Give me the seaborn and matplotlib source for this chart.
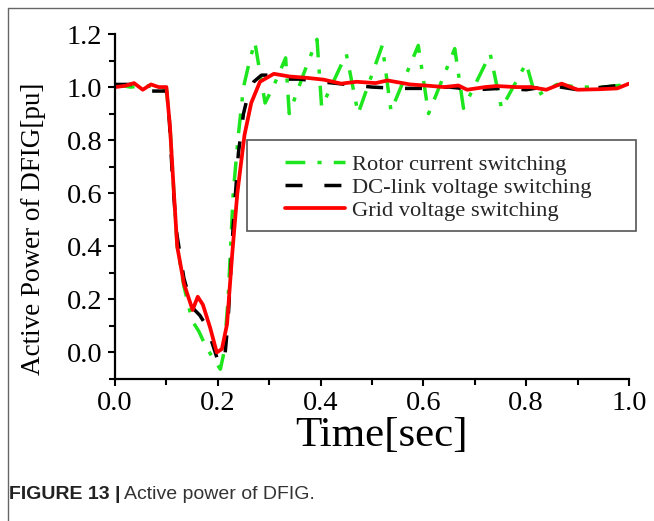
import matplotlib
matplotlib.use("Agg")
import matplotlib.pyplot as plt
import seaborn as sns
from matplotlib.lines import Line2D
from matplotlib.patches import Rectangle
from matplotlib.ticker import MultipleLocator

# ---------------- data ----------------
t_grid = [0, 0.02, 0.037, 0.054, 0.07, 0.085, 0.1, 0.107, 0.114, 0.121, 0.134,
          0.151, 0.161, 0.171, 0.185, 0.198, 0.208, 0.218, 0.228, 0.238, 0.252,
          0.265, 0.282, 0.309, 0.339, 0.372, 0.406, 0.44, 0.47, 0.507, 0.53,
          0.574, 0.61, 0.64, 0.668, 0.685, 0.72, 0.742, 0.78, 0.809, 0.839,
          0.869, 0.9, 0.943, 0.977, 1.0]
p_grid = [1.0, 1.005, 1.015, 0.99, 1.01, 1.0, 1.0, 0.85, 0.62, 0.40, 0.26,
          0.16, 0.21, 0.18, 0.094, 0.0, 0.013, 0.107, 0.37, 0.60, 0.82,
          0.94, 1.02, 1.05, 1.04, 1.035, 1.028, 1.013, 1.02, 1.015, 1.025,
          1.01, 1.005, 1.0, 1.006, 0.99, 1.0, 1.004, 1.0, 1.0, 0.99,
          1.013, 0.99, 0.992, 0.995, 1.013]

t_dc = [0, 0.03, 0.05, 0.065, 0.1, 0.105, 0.112, 0.12, 0.134, 0.15, 0.165,
        0.178, 0.19, 0.2, 0.207, 0.213, 0.22, 0.23, 0.24, 0.25, 0.26, 0.27,
        0.285, 0.3, 0.33, 0.36, 0.4, 0.45, 0.5, 0.55, 0.6, 0.65, 0.7, 0.75,
        0.8, 0.85, 0.9, 0.95, 1.0]
p_dc = [1.01, 1.01, 1.005, 0.985, 0.985, 0.9, 0.65, 0.45, 0.28, 0.17, 0.14,
        0.10, 0.03, -0.03, -0.045, -0.03, 0.12, 0.48, 0.75, 0.9, 0.98, 1.02,
        1.045, 1.045, 1.03, 1.03, 1.02, 1.01, 1.0, 0.995, 0.995, 1.0, 0.99, 0.995,
        0.99, 1.005, 0.99, 1.0, 1.01]

t_rotor = [0, 0.03, 0.06, 0.1, 0.107, 0.114, 0.121, 0.134, 0.15, 0.163, 0.175,
           0.19, 0.205, 0.212, 0.22, 0.23, 0.24, 0.25, 0.262, 0.272, 0.292,
           0.31, 0.332, 0.339, 0.365, 0.393, 0.402, 0.45, 0.473, 0.52, 0.537,
           0.59, 0.61, 0.661, 0.678, 0.73, 0.752, 0.80, 0.818, 0.86, 0.9,
           0.95, 1.0]
p_rotor = [1.01, 1.0, 1.005, 0.995, 0.85, 0.62, 0.40, 0.25, 0.12, 0.08, 0.03,
           -0.02, -0.063, 0.0, 0.2, 0.6, 0.82, 1.0, 1.1, 1.17, 0.94,
           1.01, 1.11, 0.90, 1.04, 1.18, 0.925, 1.125, 0.90, 1.157, 0.91,
           1.157, 0.90, 1.145, 0.92, 1.125, 0.92, 1.09, 0.965, 1.01, 1.0,
           1.0, 1.01]

labels = ["Rotor current switching", "DC-link voltage switching",
          "Grid voltage switching"]
x_ticks = [0.0, 0.2, 0.4, 0.6, 0.8, 1.0]
y_ticks = [0.0, 0.2, 0.4, 0.6, 0.8, 1.0, 1.2]

# ---------------- style ----------------
sns.set_style("ticks")
plt.rcParams["font.family"] = ["Liberation Serif", "DejaVu Serif"]

W, H = 654, 521
fig = plt.figure(figsize=(W / 100, H / 100), dpi=100)
ax_l, ax_r, ax_t, ax_b = 115, 629, 34, 379
ax = fig.add_axes([ax_l / W, 1 - ax_b / H, (ax_r - ax_l) / W, (ax_b - ax_t) / H])

GREEN = "#1ee61e"
green_ls = (0, (5.7, 3.5, 1.2, 3.5))
black_ls = (0, (4.9, 6.3))

sns.lineplot(x=t_rotor, y=p_rotor, ax=ax, color=GREEN, lw=2.5, sort=False)
ax.lines[-1].set_linestyle(green_ls)
sns.lineplot(x=t_dc, y=p_dc, ax=ax, color="black", lw=2.5, sort=False)
ax.lines[-1].set_linestyle(black_ls)
sns.lineplot(x=t_grid, y=p_grid, ax=ax, color="#ff0000", lw=2.7, sort=False)

ax.set_xlim(0, 1.0)
ax.set_ylim(-0.1, 1.2)
ax.set_xticks(x_ticks)
ax.set_yticks(y_ticks)
ax.set_xticklabels([f"{v:.1f}" for v in x_ticks])
ax.set_yticklabels([f"{v:.1f}" for v in y_ticks])
ax.xaxis.set_minor_locator(MultipleLocator(0.1))
ax.yaxis.set_minor_locator(MultipleLocator(0.1))
ax.tick_params(which="major", direction="out", length=5, width=1.5,
               labelsize=20.5, pad=4, color="black", labelcolor="black")
ax.tick_params(which="minor", direction="out", length=4, width=1.5, color="black")
for side in ["top", "right"]:
    ax.spines[side].set_visible(False)
for side in ["left", "bottom"]:
    ax.spines[side].set_linewidth(1.6)
    ax.spines[side].set_color("black")

ax.set_xlabel("Time[sec]", fontsize=31, color="black")
ax.set_ylabel("Active Power of DFIG[pu]", fontsize=19.5, color="black")
ax.xaxis.set_label_coords(0.518, -0.11)
ax.yaxis.label.set_va("center")
ax.yaxis.set_label_coords(-0.158, 0.435)

# legend
handles = [Line2D([], [], color=GREEN, lw=2.5, linestyle=green_ls),
           Line2D([], [], color="black", lw=2.5, linestyle=black_ls),
           Line2D([], [], color="#ff0000", lw=2.7)]
fs_leg = 16.2
leg = ax.legend(handles, labels, loc="upper left",
                bbox_to_anchor=(285 / W, 1 - 154 / H), bbox_transform=fig.transFigure,
                frameon=False, fontsize=fs_leg, borderpad=0, borderaxespad=0,
                handlelength=60 / (fs_leg * 100 / 72), handletextpad=0.3,
                labelspacing=0.1)
fig.patches.append(Rectangle((247 / W, 1 - 231 / H), (636 - 247) / W, (231 - 140) / H,
                             transform=fig.transFigure, fill=False,
                             edgecolor="#555555", lw=1.2, zorder=5))

# page frame lines
fig.add_artist(Line2D([7.5 / W, 1], [1 - 8 / H, 1 - 8 / H], transform=fig.transFigure,
                      color="#666666", lw=1.0))
fig.add_artist(Line2D([7.5 / W, 7.5 / W], [0, 1 - 8 / H], transform=fig.transFigure,
                      color="#666666", lw=1.0))

# caption
cap_y = 1 - 499 / H
t1 = fig.text(9 / W, cap_y, "FIGURE 13 |", fontsize=14, fontweight="bold",
              family=["Liberation Sans", "DejaVu Sans"], color="#222222", va="baseline")
fig.canvas.draw()
bb = t1.get_window_extent()
fig.text(bb.x1 / W + 4 / W, cap_y, "Active power of DFIG.", fontsize=14,
         family=["Liberation Sans", "DejaVu Sans"], color="#333333", va="baseline")

fig.savefig("out.png", dpi=100)
